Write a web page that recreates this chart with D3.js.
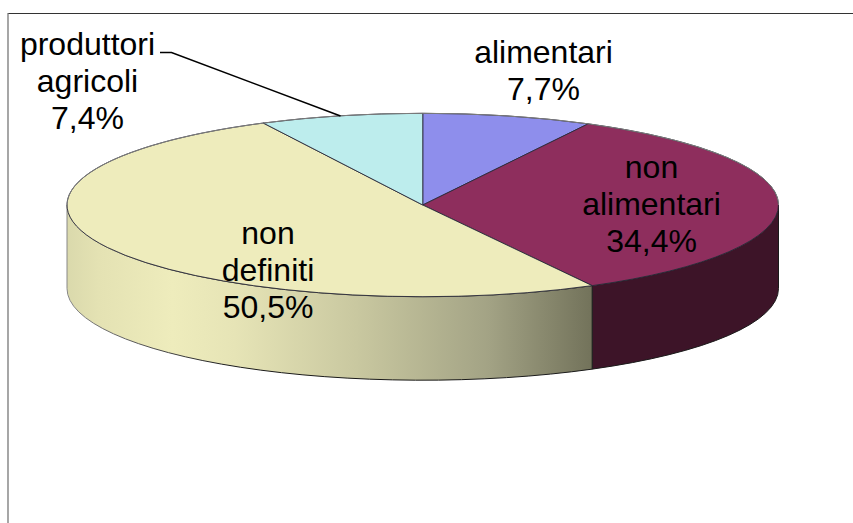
<!DOCTYPE html>
<html>
<head>
<meta charset="utf-8">
<script src="https://cdn.jsdelivr.net/npm/d3@7"></script>
<style>
  html, body { margin: 0; padding: 0; background: #fff; overflow: hidden; }
  text { font-family: "Liberation Sans", Arial, sans-serif; font-size: 32px; fill: #000; text-anchor: middle; }
</style>
</head>
<body>
<script>
const width = 853,
      height = 523;

// data, clockwise from 12 o'clock
const categories = ['alimentari', 'non alimentari', 'non definiti', 'produttori agricoli'];
const shares = [7.7, 34.4, 50.5, 7.4];
const labelLines = [['alimentari'], ['non', 'alimentari'], ['non', 'definiti'], ['produttori', 'agricoli']];

// styling
const topColors = ['#8e8eec', '#8e2e5d', '#eeecbc', '#bdeded'];
const sideColors = ['#46466f', '#3d1428', 'url(#creamSide)', '#59706f'];
const labelCenters = [[543.5, 62.5], [651.5, 177.5], [268, 244], [87.5, 54.5]];
const lineStep = 37;

const svg = d3.select('body').append('svg')
  .attr('width', width)
  .attr('height', height);

const defs = svg.append('defs');

function hGradient(id, x1, x2, stops) {
  const g = defs.append('linearGradient')
    .attr('id', id)
    .attr('gradientUnits', 'userSpaceOnUse')
    .attr('x1', x1).attr('x2', x2)
    .attr('y1', 0).attr('y2', 0);
  stops.forEach(([o, c]) => g.append('stop').attr('offset', o).attr('stop-color', c));
}

hGradient('creamSide', 67, 593, [[0, '#dad9ac'], [0.06, '#e4e2b3'], [0.2, '#eeecbc'], [0.32, '#e6e4b6'], [0.55, '#c9c8a0'], [0.8, '#a3a385'], [1, '#72725a']]);
// outline of the wall goes grey towards the left edge
hGradient('wallEdge', 67, 230, [[0, '#888'], [1, '#1a1a1a']]);

// frame, open to the right and the bottom
svg.append('path')
  .attr('d', `M${width},13.5H8`)
  .attr('fill', 'none')
  .attr('stroke', '#333');
svg.append('path')
  .attr('d', `M8,13V${height}`)
  .attr('fill', 'none')
  .attr('stroke', '#777')
  .attr('stroke-width', 1.3);

// the top face is a flattened circle: unit circle -> pixels
const x = d3.scaleLinear().domain([-1, 1]).range([67, 778.5]);
const y = d3.scaleLinear().domain([1, -1]).range([113.3, 296.7]);
const rx = (x(1) - x(-1)) / 2,
      ry = (y(-1) - y(1)) / 2,
      depth = 83.5;

const rim = a => [x(Math.sin(a)), y(Math.cos(a))];

const arcs = d3.pie().sort(null).value(d => d)(shares);

// side wall, only the front half can be seen
function sidePath(d) {
  const a0 = Math.max(d.startAngle, Math.PI / 2),
        a1 = Math.min(d.endAngle, Math.PI * 3 / 2);
  if (a0 >= a1) return null;
  const [x0, y0] = rim(a0), [x1, y1] = rim(a1);
  return `M${x0},${y0}A${rx},${ry} 0 0 1 ${x1},${y1}` +
         `L${x1},${y1 + depth}A${rx},${ry} 0 0 0 ${x0},${y0 + depth}Z`;
}

function topPath(d) {
  const [x0, y0] = rim(d.startAngle), [x1, y1] = rim(d.endAngle);
  const large = d.endAngle - d.startAngle > Math.PI ? 1 : 0;
  return `M${x(0)},${y(0)}L${x0},${y0}A${rx},${ry} 0 ${large} 1 ${x1},${y1}Z`;
}

function rimPath(a0, a1) {
  const [x0, y0] = rim(a0), [x1, y1] = rim(a1);
  return `M${x0},${y0}A${rx},${ry} 0 0 1 ${x1},${y1}`;
}

svg.append('g').selectAll('path')
  .data(arcs.filter(d => sidePath(d)))
  .join('path')
  .attr('d', sidePath)
  .attr('fill', d => sideColors[d.index])
  .attr('stroke', 'url(#wallEdge)')
  .attr('stroke-width', 1)
  .attr('stroke-linejoin', 'round');

svg.append('g').selectAll('path')
  .data(arcs)
  .join('path')
  .attr('d', topPath)
  .attr('fill', d => topColors[d.index])
  .attr('stroke', '#2a2a3a')
  .attr('stroke-width', 0.9)
  .attr('stroke-linejoin', 'round');

// back of the rim reads lighter than the front
svg.append('path')
  .attr('d', rimPath(-Math.PI / 2, Math.PI / 2))
  .attr('fill', 'none')
  .attr('stroke', '#7d7d7d')
  .attr('stroke-width', 1);

// leader for the one label sitting outside the pie
svg.append('path')
  .attr('d', 'M160,52.5H171.5L340.5,116')
  .attr('fill', 'none')
  .attr('stroke', '#000')
  .attr('stroke-width', 1.6);

const fmt = v => v.toFixed(1).replace('.', ',') + '%';

const labels = svg.append('g').selectAll('text')
  .data(arcs)
  .join('text')
  .attr('transform', d => `translate(${labelCenters[d.index]})`)
  .attr('aria-label', d => categories[d.index]);

labels.selectAll('tspan')
  .data(d => labelLines[d.index].concat(fmt(d.value)))
  .join('tspan')
  .attr('x', 0)
  .attr('y', (d, i) => i * lineStep)
  .text(d => d);
</script>
</body>
</html>
